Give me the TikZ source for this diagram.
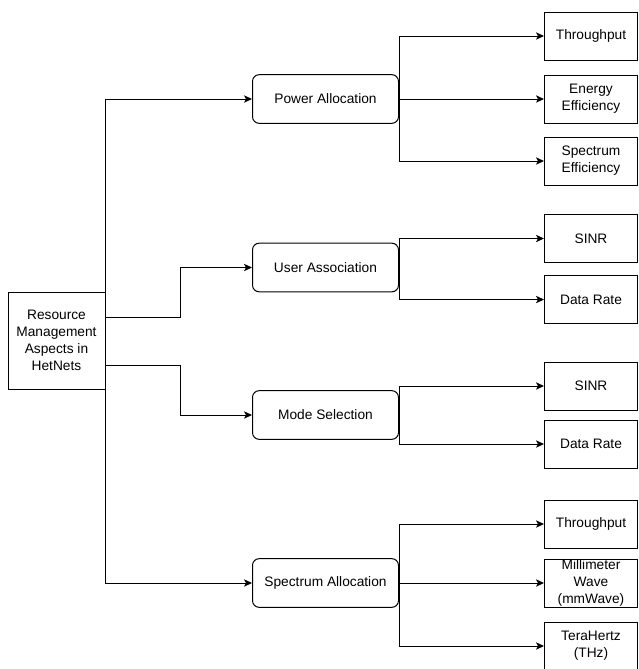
\documentclass[tikz,border=0pt]{standalone}
\usepackage{fontspec}
\setmainfont{Liberation Sans}
\usetikzlibrary{arrows.meta}
\begin{document}
\begin{tikzpicture}[x=0.75pt,y=-0.75pt,
  every node/.style={font=\fontsize{10.3}{12.75}\selectfont, align=center, inner sep=0pt},
  rootbox/.style={draw, line width=0.75pt, minimum width=72.75pt, minimum height=72.75pt},
  aspect/.style={draw, line width=0.75pt, rounded corners=5pt, minimum width=109.5pt, minimum height=36.5pt},
  metric/.style={draw, line width=0.75pt, minimum width=69.75pt, minimum height=36pt},
  conn/.style={draw, line width=0.75pt, -{Stealth[length=6pt,width=5.5pt,inset=1.5pt]}}
]
\useasboundingbox (0,0) rectangle (639,669);

% root
\node[rootbox] (root) at (56.5,340.5) {Resource\\Management\\Aspects in\\HetNets};

% second level
\node[aspect] (pa) at (325.5,99) {Power Allocation};
\node[aspect] (ua) at (325.5,267.5) {User Association};
\node[aspect] (ms) at (325.5,415) {Mode Selection};
\node[aspect] (sa) at (325.5,583) {Spectrum Allocation};

% third level
\node[metric] (t1) at (591,36) {Throughput};
\node[metric] (ee) at (591,99) {Energy\\Efficiency};
\node[metric] (se) at (591,161) {Spectrum\\Efficiency};
\node[metric] (s1) at (591,238.5) {SINR};
\node[metric] (d1) at (591,299.5) {Data Rate};
\node[metric] (s2) at (591,386) {SINR};
\node[metric] (d2) at (591,444) {Data Rate};
\node[metric] (t2) at (591,524) {Throughput};
\node[metric] (mw) at (591,583) {Millimeter\\Wave\\(mmWave)};
\node[metric] (th) at (591,646) {TeraHertz\\(THz)};

% root to aspects
\draw[conn] (root.north east) |- (pa.west);
\draw[conn] (root.east) ++(0,-23.5) -- ++(75,0) |- (ua.west);
\draw[conn] (root.east) ++(0,24.5) -- ++(75,0) |- (ms.west);
\draw[conn] (root.south east) |- (sa.west);

% aspects to metrics
\draw[conn] (pa.east) |- (t1.west);
\draw[conn] (pa.east) -- (ee.west);
\draw[conn] (pa.east) |- (se.west);
\draw[conn] (ua.east) |- (s1.west);
\draw[conn] (ua.east) |- (d1.west);
\draw[conn] (ms.east) |- (s2.west);
\draw[conn] (ms.east) |- (d2.west);
\draw[conn] (sa.east) |- (t2.west);
\draw[conn] (sa.east) -- (mw.west);
\draw[conn] (sa.east) |- (th.west);
\end{tikzpicture}
\end{document}
